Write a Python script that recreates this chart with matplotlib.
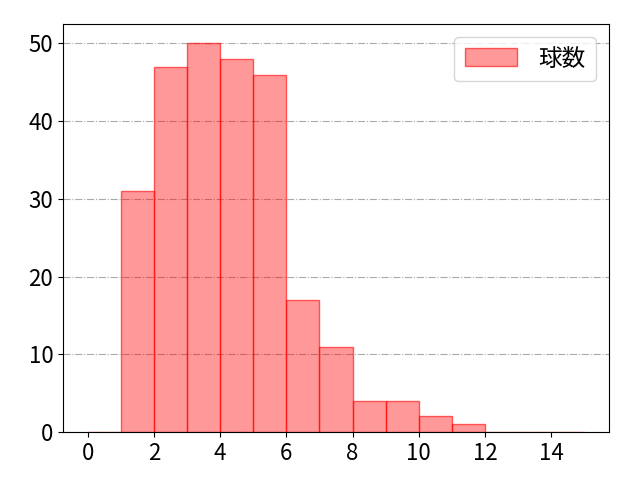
import matplotlib
matplotlib.use("Agg")
import matplotlib.pyplot as plt
import numpy as np

plt.rcParams['font.family'] = ['Noto Sans CJK JP', 'DejaVu Sans']

bin_edges = list(range(0, 16))
counts = [0, 31, 47, 50, 48, 46, 17, 11, 4, 4, 2, 1, 0, 0, 0]
label = "球数"

fig, ax = plt.subplots(figsize=(6.4, 4.8), dpi=100)
fig.subplots_adjust(left=63/640, right=609/640, top=1-24/480, bottom=1-432/480)
ax.bar(bin_edges[:-1], counts, width=1.0, align='edge',
       facecolor=(1, 0, 0, 0.4), edgecolor=(1, 0, 0, 0.6), linewidth=1.0, label=label)
ax.set_xticks(range(0, 15, 2))
ax.set_yticks(range(0, 51, 10))
ax.tick_params(labelsize=16)
ax.yaxis.grid(True, linestyle='-.', color='#aaaaaa', linewidth=0.8)
ax.set_axisbelow(True)
ax.legend(loc='upper right', fontsize=17, handlelength=2.2, handleheight=0.8,
          handletextpad=0.9, borderpad=0.45, borderaxespad=0.55)
fig.savefig("out.png", dpi=100)
